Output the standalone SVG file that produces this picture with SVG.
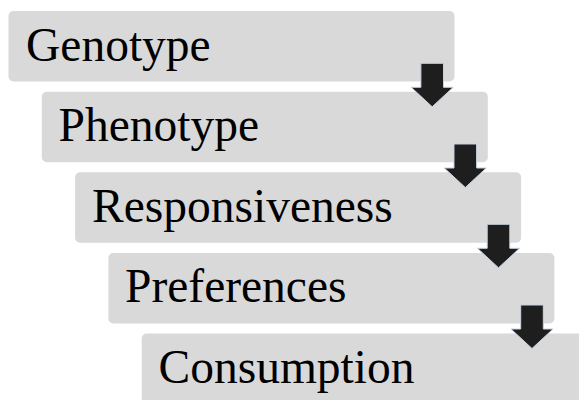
<svg xmlns="http://www.w3.org/2000/svg" width="579" height="400" viewBox="0 0 579 400">
  <style>
    .box { fill: #d9d9d9; }
    .label { font-size: 47.5px; fill: #000000; }
    .arrow { fill: #1e1e1e; stroke: #c8d2e2; stroke-width: 1; stroke-linejoin: miter; }
  </style>
  <defs>
    <!-- downward block arrow, origin at top-centre of the shaft -->
    <path id="down-arrow" class="arrow" d="M -11.3 0 H 11.3 V 24 H 21 L 0 43.5 L -21 24 H -11.3 Z"/>
  </defs>

  <g id="labels-font" font-family="'Liberation Serif', serif">
    <g id="node-genotype">
      <rect class="box" x="8.5" y="11" width="446" height="70.5" rx="5"/>
      <text class="label" x="26" y="60.5">Genotype</text>
    </g>
    <g id="node-phenotype">
      <rect class="box" x="41.8" y="91.7" width="446" height="70.5" rx="5"/>
      <text class="label" x="58.5" y="141">Phenotype</text>
    </g>
    <g id="node-responsiveness">
      <rect class="box" x="75.1" y="172.3" width="446" height="70.5" rx="5"/>
      <text class="label" x="92" y="221.8">Responsiveness</text>
    </g>
    <g id="node-preferences">
      <rect class="box" x="108.4" y="253" width="446" height="70.5" rx="5"/>
      <text class="label" x="125" y="302">Preferences</text>
    </g>
    <g id="node-consumption">
      <rect class="box" x="141.7" y="333.6" width="446" height="70.5" rx="5"/>
      <text class="label" x="158.5" y="382.5">Consumption</text>
    </g>
  </g>

  <g id="connectors">
    <use href="#down-arrow" x="432.2" y="63.3"/>
    <use href="#down-arrow" x="465.3" y="144"/>
    <use href="#down-arrow" x="498.5" y="224.3"/>
    <use href="#down-arrow" x="532" y="305"/>
  </g>
</svg>
